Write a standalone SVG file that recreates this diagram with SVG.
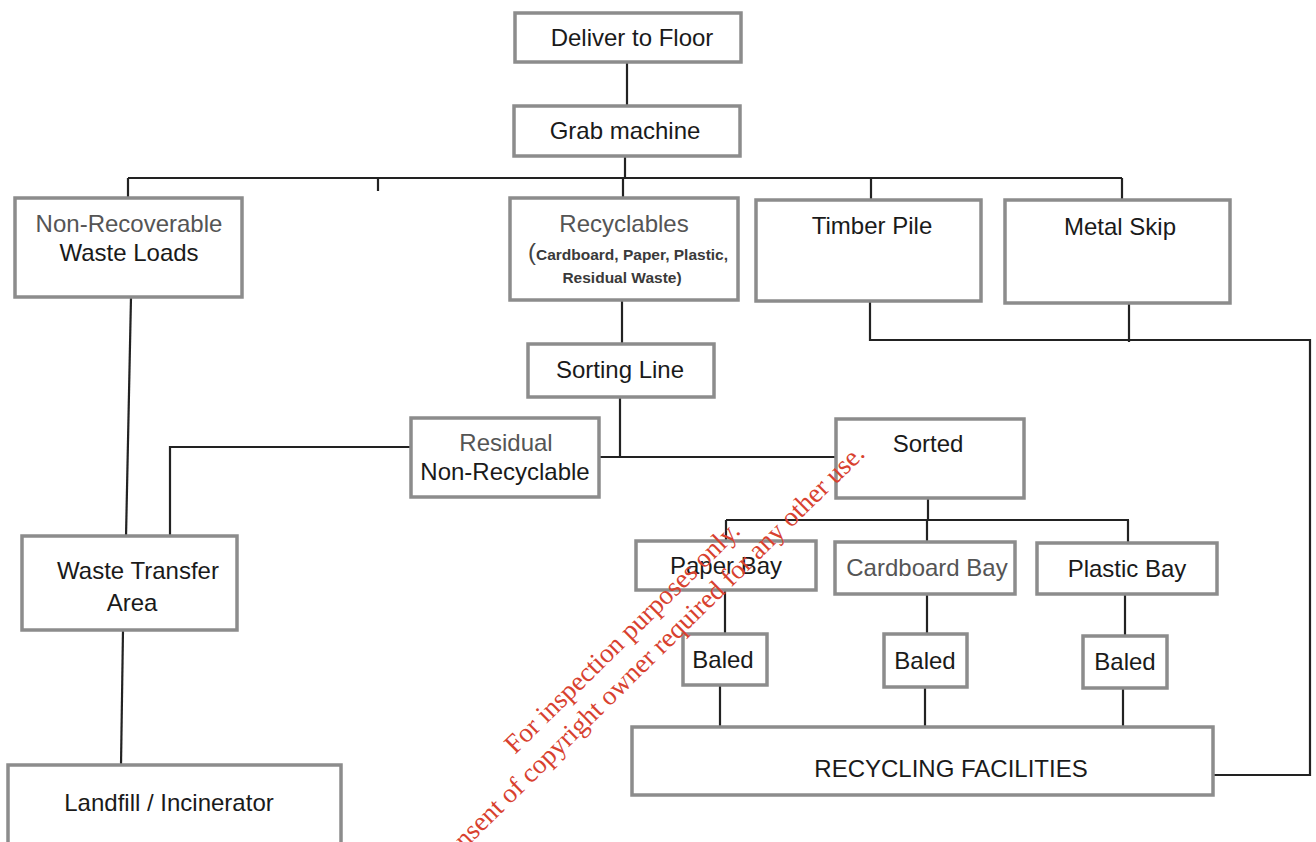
<svg xmlns="http://www.w3.org/2000/svg" width="1316" height="842" viewBox="0 0 1316 842">
<style>
.box{fill:#fff;stroke:#8c8c8c;stroke-width:3.5}
.t{font-family:"Liberation Sans",Arial,sans-serif;font-size:24px;fill:#1a1a1a;text-anchor:middle}
.g{fill:#555}
.s{font-size:15.5px;font-weight:bold;fill:#3a3a3a}
.c{fill:none;stroke:#222;stroke-width:2.2}
.wm{font-family:"Liberation Serif","Times New Roman",serif;font-size:27px;fill:#d8412f}
</style>
<rect width="1316" height="842" fill="#fff"/>
<g id="connectors">
<path class="c" d="M627 62V106"/>
<path class="c" d="M625 156V178"/>
<path class="c" d="M128 178H1122"/>
<path class="c" d="M128 178V199M378 178V191M623 178V199M871 178V200M1122 178V200"/>
<path class="c" d="M131 297L126 537"/>
<path class="c" d="M622 300V344"/>
<path class="c" d="M620 397V457"/>
<path class="c" d="M600 457H836"/>
<path class="c" d="M411 447H170V536"/>
<path class="c" d="M123 630L121 765"/>
<path class="c" d="M870 301V340H1310V775H1213"/>
<path class="c" d="M1129 303V342"/>
<path class="c" d="M928 498V520M726 520H1129M726 520V541M927 520V542M1128 520V543"/>
<path class="c" d="M725 590V634M927 594V634M1125 594V636"/>
<path class="c" d="M720 685V727M925 687V727M1123 688V727"/>
</g>
<g id="deliver"><rect class="box" x="515" y="13" width="226" height="49"/><text class="t" x="632" y="46">Deliver to Floor</text></g>
<g id="grab"><rect class="box" x="514" y="106" width="226" height="50"/><text class="t" x="625" y="139">Grab machine</text></g>
<g id="nonrecoverable"><rect class="box" x="15" y="198" width="227" height="99"/><text class="t" x="129" y="232"><tspan class="g">Non-Recoverable</tspan><tspan x="129" dy="29">Waste Loads</tspan></text></g>
<g id="recyclables"><rect class="box" x="510" y="198" width="228" height="102"/><text class="t g" x="624" y="232">Recyclables</text><text class="t" x="628" y="260"><tspan font-size="24px" fill="#444">(</tspan><tspan class="s">Cardboard, Paper, Plastic,</tspan></text><text class="t s" x="622" y="283">Residual Waste)</text></g>
<g id="timber"><rect class="box" x="756" y="200" width="225" height="101"/><text class="t" x="872" y="234">Timber Pile</text></g>
<g id="metal"><rect class="box" x="1005" y="200" width="225" height="103"/><text class="t" x="1120" y="235">Metal Skip</text></g>
<g id="sorting"><rect class="box" x="528" y="344" width="186" height="53"/><text class="t" x="620" y="378">Sorting Line</text></g>
<g id="residual"><rect class="box" x="411" y="418" width="188" height="79"/><text class="t" x="506" y="451"><tspan class="g">Residual</tspan><tspan x="505" dy="29">Non-Recyclable</tspan></text></g>
<g id="sorted"><rect class="box" x="836" y="419" width="188" height="79"/><text class="t" x="928" y="452">Sorted</text></g>
<g id="wastetransfer"><rect class="box" x="22" y="536" width="215" height="94"/><text class="t" x="138" y="579">Waste Transfer<tspan x="132" dy="32">Area</tspan></text></g>
<g id="landfill"><rect class="box" x="8" y="765" width="333" height="82"/><text class="t" x="169" y="811">Landfill / Incinerator</text></g>
<g id="paperbay"><rect class="box" x="636" y="541" width="180" height="49"/><text class="t" x="726" y="574">Paper Bay</text></g>
<g id="cardboardbay"><rect class="box" x="835" y="542" width="180" height="52"/><text class="t g" x="927" y="576">Cardboard Bay</text></g>
<g id="plasticbay"><rect class="box" x="1037" y="543" width="180" height="51"/><text class="t" x="1127" y="577">Plastic Bay</text></g>
<g id="baled1"><rect class="box" x="683" y="634" width="84" height="51"/><text class="t" x="723" y="668">Baled</text></g>
<g id="baled2"><rect class="box" x="884" y="634" width="83" height="53"/><text class="t" x="925" y="669">Baled</text></g>
<g id="baled3"><rect class="box" x="1083" y="636" width="84" height="52"/><text class="t" x="1125" y="670">Baled</text></g>
<g id="recyclingfacilities"><rect class="box" x="632" y="727" width="581" height="68"/><text class="t" x="951" y="777">RECYCLING FACILITIES</text></g>
<g id="watermark">
<text class="wm" transform="translate(515 755) rotate(-44.5)">For inspection purposes only.</text>
<text class="wm" text-anchor="end" transform="translate(866 455) rotate(-44.5)">Consent of copyright owner required for any other use.</text>
</g>
</svg>
